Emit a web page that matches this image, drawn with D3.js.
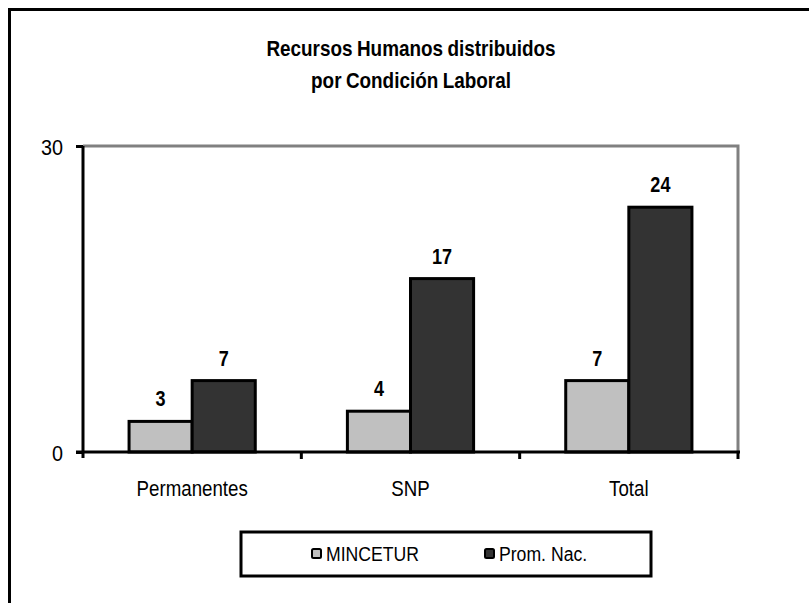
<!DOCTYPE html>
<html>
<head>
<meta charset="utf-8">
<script src="https://cdn.jsdelivr.net/npm/d3@7"></script>
<style>
  html, body { margin: 0; padding: 0; background: #fff; }
  svg { display: block; }
  text { font-family: "Liberation Sans", Arial, sans-serif; fill: #000; }
</style>
</head>
<body>
<svg id="chart" width="809" height="603"></svg>
<script>
const categories = ["Permanentes", "SNP", "Total"];
const seriesNames = ["MINCETUR", "Prom. Nac."];
const mincetur = [3, 4, 7];
const promNac = [7, 17, 24];
const yTicks = [0, 30];
const titleLines = ["Recursos Humanos distribuidos", "por Condición Laboral"];

const colors = ["#c0c0c0", "#333333"];
const SX = 0.85; // horizontal condensation to mimic a narrow font
const svg = d3.select("#chart");

function narrow(sel, x, y, sx) {
  return sel.attr("x", 0).attr("y", 0)
    .attr("transform", `translate(${x},${y}) scale(${sx},1)`);
}

// outer frame (only left/top visible)
svg.append("rect")
  .attr("x", 9.5).attr("y", 9.5).attr("width", 820).attr("height", 620)
  .attr("fill", "none").attr("stroke", "#000").attr("stroke-width", 3);

// title
titleLines.forEach((t, i) => {
  svg.append("text")
    .call(narrow, 411, 56 + i * 32, 0.86)
    .attr("text-anchor", "middle")
    .attr("font-size", 22).attr("font-weight", "bold")
    .attr("word-spacing", -1)
    .text(t);
});

const plot = { left: 83, right: 738, top: 146, bottom: 452 };

const x0 = d3.scaleBand().domain(categories).range([plot.left, plot.right]).paddingInner(0).paddingOuter(0);
const bw = x0.bandwidth();
const x1 = d3.scaleBand().domain(seriesNames).range([0, bw]).paddingInner(0).paddingOuter(0.73);
const y = d3.scaleLinear().domain([0, 30]).range([plot.bottom, plot.top]);

// plot area border (gray top/right)
svg.append("path")
  .attr("d", `M${plot.left},${plot.top}H${plot.right}V${plot.bottom}`)
  .attr("fill", "none").attr("stroke", "#808080").attr("stroke-width", 3);

const data = categories.map((c, i) => ({ cat: c, vals: [mincetur[i], promNac[i]] }));

const groups = svg.append("g").selectAll("g.cat").data(data).join("g")
  .attr("transform", d => `translate(${x0(d.cat)},0)`);

const bars = d => d.vals.map((v, j) => ({ s: seriesNames[j], v, j }));

groups.selectAll("rect").data(bars).join("rect")
  .attr("x", d => x1(d.s))
  .attr("y", d => y(d.v))
  .attr("width", x1.bandwidth())
  .attr("height", d => y(0) - y(d.v))
  .attr("fill", d => colors[d.j])
  .attr("stroke", "#000").attr("stroke-width", 3);

groups.selectAll("text.lbl").data(bars).join("text").attr("class", "lbl")
  .each(function (d) {
    d3.select(this).call(narrow, x1(d.s) + x1.bandwidth() / 2, y(d.v) - 15, 0.82);
  })
  .attr("text-anchor", "middle")
  .attr("font-size", 22).attr("font-weight", "bold")
  .text(d => d.v);

// y axis
const YSX = 0.9;
const yAxis = d3.axisLeft(y).tickValues(yTicks).tickSize(7).tickPadding(13);
const yg = svg.append("g").attr("transform", `translate(${plot.left},0)`).call(yAxis);
yg.attr("font-family", null).attr("font-size", null);
yg.select(".domain").attr("stroke", "#000").attr("stroke-width", 3)
  .attr("d", `M0,${plot.top}V${plot.bottom + 6}`);
yg.selectAll(".tick line").attr("stroke", "#000").attr("stroke-width", 3);
yg.selectAll(".tick text")
  .attr("font-size", 22)
  .attr("x", -20 / YSX).attr("dy", "0.4em")
  .attr("transform", `scale(${YSX},1)`);

// x axis line and ticks between categories
const xTickScale = d3.scaleLinear().domain([0, categories.length]).range([plot.left, plot.right]);
const xg = svg.append("g").attr("transform", `translate(0,${plot.bottom})`);
xg.append("path").attr("d", `M${plot.left - 7},0H${plot.right + 2}`)
  .attr("stroke", "#000").attr("stroke-width", 3);
xg.selectAll("line.tk").data(d3.range(1, categories.length + 1)).join("line").attr("class", "tk")
  .attr("x1", d => xTickScale(d)).attr("x2", d => xTickScale(d))
  .attr("y1", 0).attr("y2", 7).attr("stroke", "#000").attr("stroke-width", 3);
const xAxis = d3.axisBottom(x0).tickSize(0).tickPadding(44);
const xa = svg.append("g").attr("transform", `translate(0,${plot.bottom})`).call(xAxis);
xa.attr("font-family", null).attr("font-size", null);
xa.select(".domain").remove();
xa.selectAll(".tick text").attr("font-size", 22).attr("dy", 0)
  .attr("transform", `scale(${SX},1)`);

// legend
const lg = svg.append("g");
lg.append("rect").attr("x", 241).attr("y", 532).attr("width", 410).attr("height", 44)
  .attr("fill", "#fff").attr("stroke", "#000").attr("stroke-width", 3);
const legX = [312, 485];
const items = lg.selectAll("g.it").data(seriesNames).join("g")
  .attr("transform", (d, i) => `translate(${legX[i]},553)`);
items.append("rect").attr("x", 0).attr("y", -4).attr("width", 9).attr("height", 9)
  .attr("rx", 1.5)
  .attr("fill", (d, i) => colors[i]).attr("stroke", "#000").attr("stroke-width", 2);
items.append("text").call(narrow, 14, 8, 0.84).attr("font-size", 21).text(d => d);
</script>
</body>
</html>
